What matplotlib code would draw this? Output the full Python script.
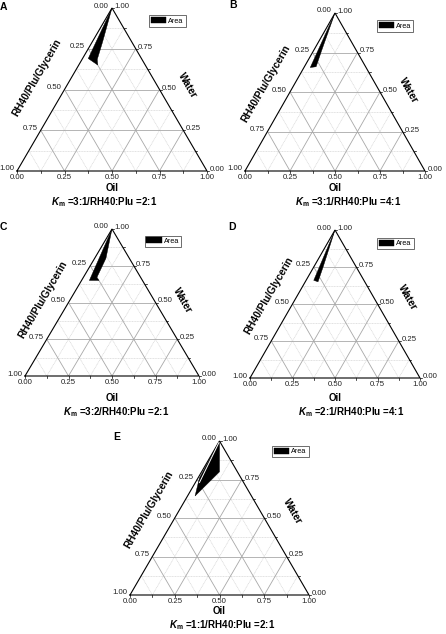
import numpy as np
import matplotlib.pyplot as plt

plt.rcParams['font.family'] = ['Liberation Sans', 'DejaVu Sans']
plt.rcParams['mathtext.fontset'] = 'custom'
plt.rcParams['mathtext.it'] = 'Liberation Sans:italic:bold'
plt.rcParams['mathtext.rm'] = 'Liberation Sans:bold'

W, H = 446, 634

# %% Data
tick_vals = [0.0, 0.25, 0.5, 0.75, 1.0]
tick_labels = ['0.00', '0.25', '0.50', '0.75', '1.00']
major_grid = [0.25, 0.5, 0.75]
minor_grid = [0.125, 0.375, 0.625, 0.875]

letters = ['A', 'B', 'C', 'D', 'E']
km_ratio = ['3:1', '3:1', '3:2', '2:1', '1:1']
rh_plu_ratio = ['2:1', '4:1', '2:1', '4:1', '2:1']

# area boundaries (oil fraction, water fraction)
area_oil_a = [0.0, 0.03, 0.10, 0.08, 0.055, 0.0]
area_water_a = [1.0, 0.69, 0.65, 0.685, 0.79, 1.0]
area_oil_b = [0.0, 0.035, 0.065, 0.045, 0.0]
area_water_b = [1.0, 0.655, 0.66, 0.76, 1.0]
area_oil_c = [0.0, 0.045, 0.10, 0.078, 0.065, 0.0]
area_water_c = [1.0, 0.65, 0.65, 0.67, 0.80, 1.0]
area_oil_d = [0.0, 0.045, 0.075, 0.055, 0.0]
area_water_d = [1.0, 0.66, 0.65, 0.75, 1.0]
area_oil_e = [0.0, 0.10, 0.042, 0.008, 0.0]
area_water_e = [1.0, 0.80, 0.643, 0.76, 1.0]
gap_oil_e = [0.002, 0.023]
gap_water_e = [0.99, 0.73]

areas = [(area_oil_a, area_water_a), (area_oil_b, area_water_b),
         (area_oil_c, area_water_c), (area_oil_d, area_water_d),
         (area_oil_e, area_water_e)]

# %% Layout (pixels): triangle (left x, right x, base y, apex y) and text spots
layout = [
    dict(tri=(17, 207, 171, 8), letter=(3.5, 6.5), legend=(167.5, 21),
         oil=(112, 188), title=(104, 202), rh=(37, 78), water=(187, 85)),
    dict(tri=(245, 425, 171, 13), letter=(233, 5.5), legend=(395, 26),
         oil=(335.5, 188), title=(348.5, 202), rh=(265.5, 83.3), water=(408.7, 90)),
    dict(tri=(25, 199, 376, 229), letter=(3.5, 226.5), legend=(162.8, 241.2),
         oil=(112, 398), title=(116, 412), rh=(42.5, 299.2), water=(182.5, 300.8)),
    dict(tri=(250, 420, 378, 230), letter=(232, 227), legend=(395.5, 243.3),
         oil=(334.7, 398), title=(351, 412), rh=(268.8, 295.8), water=(407.2, 297.5)),
    dict(tri=(130, 309, 595, 441), letter=(117, 436.5), legend=(290.5, 451.3),
         oil=(219, 610.5), title=(222.5, 625), rh=(149.2, 509.2), water=(292.5, 511.7)),
]


def tern(oil, water):
    oil = np.asarray(oil, dtype=float)
    water = np.asarray(water, dtype=float)
    return oil + water / 2, water


def fpos(x, y):
    return x / W, 1 - y / H


PT = 0.72  # points per pixel at 100 dpi

fig = plt.figure(figsize=(W / 100, H / 100), dpi=100)

for i, lay in enumerate(layout):
    x0, x1, by, ay = lay['tri']
    wpx, hpx = x1 - x0, by - ay
    ax = fig.add_axes([x0 / W, 1 - by / H, wpx / W, hpx / H])
    ax.set_xlim(0, 1)
    ax.set_ylim(0, 1)
    ax.axis('off')

    # grid
    for vals, col, lw, ls in [(minor_grid, '#d6d6d6', 0.5, (0, (1.5, 0.8))),
                              (major_grid, '#a8a8a8', 0.6, '-')]:
        for v in vals:
            for p, q in [((v, 0), (v, 1 - v)),
                         ((0, v), (1 - v, v)),
                         ((1 - v, 0), (0, 1 - v))]:
                gx, gy = tern([p[0], q[0]], [p[1], q[1]])
                ax.plot(gx, gy, color=col, lw=lw, ls=ls, zorder=1)

    # triangle frame
    ex, ey = tern([0, 1, 0, 0], [0, 0, 1, 0])
    ax.plot(ex, ey, color='black', lw=0.8, zorder=3, clip_on=False,
            solid_joinstyle='miter')

    # small ticks on bottom and right edges
    tl = 2.0
    for v in sorted(tick_vals + minor_grid):
        bx, _ = tern(v, 0)
        ax.plot([bx, bx], [0, -tl / hpx], color='black', lw=0.5, clip_on=False)
        rx, ry = tern(1 - v, v)
        ax.plot([rx, rx + tl / wpx], [ry, ry], color='black', lw=0.5, clip_on=False)

    # tick labels
    for v, lab in zip(tick_vals, tick_labels):
        bx, bybot = tern(v, 0)
        ax.annotate(lab, (bx, bybot), xytext=(0, -3 * PT), textcoords='offset points',
                    ha='center', va='top', fontsize=5.6, color='#222222',
                    annotation_clip=False)
        lx, ly = tern(0, 1 - v)
        ax.annotate(lab, (lx, ly), xytext=(-3 * PT, 2 * PT), textcoords='offset points',
                    ha='right', va='center', fontsize=5.6, color='#222222',
                    annotation_clip=False)
        rx, ry = tern(1 - v, v)
        ax.annotate(lab, (rx, ry), xytext=(2.5 * PT, 1.5 * PT), textcoords='offset points',
                    ha='left', va='center', fontsize=5.6, color='#222222',
                    annotation_clip=False)

    # area
    ao, aw = areas[i]
    fx, fy = tern(ao, aw)
    ax.fill(fx, fy, color='black', lw=0.3, ec='black', label='Area', zorder=4)
    if letters[i] == 'E':
        gx, gy = tern(gap_oil_e, gap_water_e)
        ax.plot(gx, gy, color='white', lw=0.7, zorder=5)

    ax.legend(loc='center', bbox_to_anchor=fpos(*lay['legend']),
              bbox_transform=fig.transFigure, fontsize=5.2, frameon=True,
              fancybox=False, edgecolor='#555555', framealpha=1,
              handlelength=2.1, handleheight=0.9, borderpad=0.25,
              handletextpad=0.3, borderaxespad=0).get_frame().set_linewidth(0.6)

    # labels
    fig.text(*fpos(*lay['letter']), letters[i], ha='center', va='center',
             fontsize=7.5, fontweight='bold')
    fig.text(*fpos(*lay['oil']), 'Oil', ha='center', va='center',
             fontsize=7, fontweight='bold')
    fig.text(*fpos(*lay['rh']), 'RH40/Plu/Glycerin', ha='center', va='center',
             rotation=60, rotation_mode='anchor', fontsize=7.3, fontweight='bold')
    fig.text(*fpos(*lay['water']), 'Water', ha='center', va='center',
             rotation=-60, rotation_mode='anchor', fontsize=7.3, fontweight='bold')
    fig.text(*fpos(*lay['title']),
             r'$K_{\mathrm{m}}$ =' + km_ratio[i] + '/RH40:Plu =' + rh_plu_ratio[i],
             ha='center', va='center', fontsize=7, fontweight='bold')

plt.savefig('out.png', dpi=100)
plt.close(fig)
